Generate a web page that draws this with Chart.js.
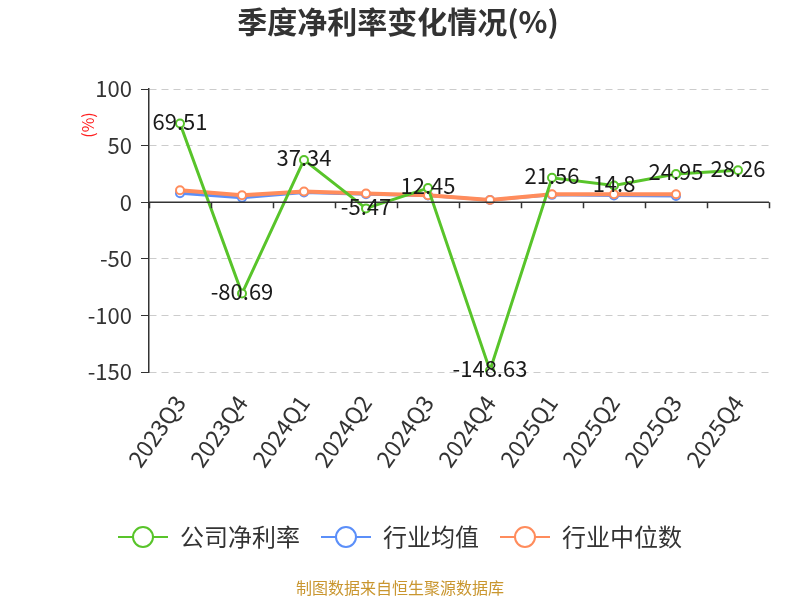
<!DOCTYPE html>
<html>
<head>
<meta charset="utf-8">
<script src="https://cdn.jsdelivr.net/npm/chart.js@4"></script>
<style>
  html, body { margin: 0; padding: 0; background: #fff; }
  #wrap { width: 800px; height: 600px; position: relative; }
</style>
</head>
<body>
<div id="wrap"><canvas id="myChart" width="800" height="600"></canvas></div>
<script>
// data
const quarters = ['2023Q3', '2023Q4', '2024Q1', '2024Q2', '2024Q3', '2024Q4', '2025Q1', '2025Q2', '2025Q3', '2025Q4'];
const companyMargin = [69.51, -80.69, 37.34, -5.47, 12.45, -148.63, 21.56, 14.8, 24.95, 28.26];
const industryAvg = [8, 4, 8.5, 7, 6, 2, 6.5, 6, 5.5, null];
const industryMedian = [10.5, 6.2, 9.5, 7.7, 6.2, 2, 7, 7, 7, null];
const yTicks = [100, 50, 0, -50, -100, -150];

const FONT = '"Noto Sans CJK SC", "Noto Sans", sans-serif';
const GREEN = '#58c42a';
const BLUE = '#5b8ff9';
const ORANGE = '#ff8c5c';

// little "line - circle - line" picture for the legend
function legendIcon(color) {
    const c = document.createElement('canvas');
    c.width = 50; c.height = 24;
    const g = c.getContext('2d');
    g.strokeStyle = color;
    g.lineWidth = 2;
    g.beginPath(); g.moveTo(0, 12); g.lineTo(50, 12); g.stroke();
    g.beginPath(); g.arc(25, 12, 10, 0, Math.PI * 2);
    g.fillStyle = '#fff'; g.fill(); g.stroke();
    return c;
}
const icons = [legendIcon(GREEN), legendIcon(BLUE), legendIcon(ORANGE)];

const extras = {
    id: 'extras',
    afterDatasetsDraw(chart) {
        const ctx = chart.ctx;
        const y = chart.scales.y;
        const area = chart.chartArea;
        // zero axis line with tick marks
        const y0 = y.getPixelForValue(0);
        ctx.save();
        ctx.strokeStyle = '#333';
        ctx.lineWidth = 1.5;
        ctx.beginPath();
        ctx.moveTo(area.left, y0); ctx.lineTo(area.right, y0);
        const step = (area.right - area.left) / quarters.length;
        for (let i = 0; i <= quarters.length; i++) {
            const px = Math.round(area.left + step * i) + 0.5;
            ctx.moveTo(px, y0); ctx.lineTo(px, y0 + 6);
        }
        ctx.stroke();
        // value labels of the company line
        const meta = chart.getDatasetMeta(0);
        ctx.fillStyle = '#1a1a1a';
        ctx.font = '22px ' + FONT;
        ctx.textAlign = 'center';
        ctx.textBaseline = 'middle';
        meta.data.forEach((pt, i) => {
            ctx.fillText(String(companyMargin[i]), pt.x, pt.y - 2);
        });
        ctx.restore();
    },
    afterDraw(chart) {
        const ctx = chart.ctx;
        ctx.save();
        ctx.textAlign = 'center';
        ctx.textBaseline = 'middle';
        ctx.fillStyle = '#333';
        ctx.font = 'bold 30px ' + FONT;
        ctx.fillText('季度净利率变化情况(%)', 398, 22);
        ctx.fillStyle = '#c9962f';
        ctx.font = '16px ' + FONT;
        ctx.fillText('制图数据来自恒生聚源数据库', 400, 588);
        ctx.translate(88, 125);
        ctx.rotate(-Math.PI / 2);
        ctx.fillStyle = '#ff2020';
        ctx.font = '16px ' + FONT;
        ctx.fillText('(%)', 0, 0);
        ctx.restore();
    }
};

const LEGEND_PAD = 21;
const LEGEND_FONT = 24;
const LEGEND_MID = 537;
const PLOT_BOTTOM = 372;
const SIDE = 31;

function lineSet(label, data, color, width, order) {
    return {
        label: label,
        data: data,
        borderColor: color,
        backgroundColor: '#fff',
        borderWidth: width,
        pointRadius: 4,
        pointBorderWidth: 2,
        pointBorderColor: color,
        pointBackgroundColor: '#fff',
        tension: 0,
        order: order
    };
}

// legend box is padding + font + padding-ish: height = font + pad + 10
const legendTop = LEGEND_MID - LEGEND_PAD - LEGEND_FONT / 2;
const legendHeight = LEGEND_FONT + LEGEND_PAD + 10;

new Chart(document.getElementById('myChart'), {
    type: 'line',
    data: {
        labels: quarters,
        datasets: [
            lineSet('公司净利率', companyMargin, GREEN, 3, 0),
            lineSet('行业均值', industryAvg, BLUE, 3, 2),
            lineSet('行业中位数', industryMedian, ORANGE, 4, 1)
        ]
    },
    options: {
        responsive: false,
        animation: false,
        layout: { padding: { top: 89, left: SIDE, right: SIDE, bottom: 600 - legendTop - legendHeight } },
        scales: {
            x: {
                offset: true,
                grid: { display: false },
                border: { display: false },
                ticks: {
                    minRotation: 55,
                    maxRotation: 55,
                    padding: 10,
                    color: '#333',
                    font: { size: 23, family: FONT }
                },
                afterFit(scale) { scale.height = legendTop - PLOT_BOTTOM; }
            },
            y: {
                min: -150,
                max: 100,
                afterBuildTicks(scale) { scale.ticks = yTicks.map(v => ({ value: v })); },
                grid: {
                    color: '#cccccc',
                    lineWidth: 1,
                    tickColor: '#333',
                    tickLength: 8,
                    tickBorderDash: []
                },
                border: { display: true, color: '#333', width: 1.5, dash: [7, 5] },
                ticks: {
                    padding: 9,
                    color: '#333',
                    font: { size: 22, family: FONT }
                },
                afterFit(scale) { scale.width = 149 - SIDE; }
            }
        },
        plugins: {
            title: { display: false },
            tooltip: { enabled: false },
            legend: {
                position: 'bottom',
                labels: {
                    usePointStyle: true,
                    pointStyleWidth: 50,
                    padding: LEGEND_PAD,
                    color: '#333',
                    font: { size: LEGEND_FONT, family: FONT },
                    sort: (a, b) => a.datasetIndex - b.datasetIndex,
                    generateLabels(chart) {
                        const items = Chart.defaults.plugins.legend.labels.generateLabels(chart);
                        items.forEach(it => { it.pointStyle = icons[it.datasetIndex]; });
                        return items;
                    }
                }
            }
        }
    },
    plugins: [extras]
});
</script>
</body>
</html>
